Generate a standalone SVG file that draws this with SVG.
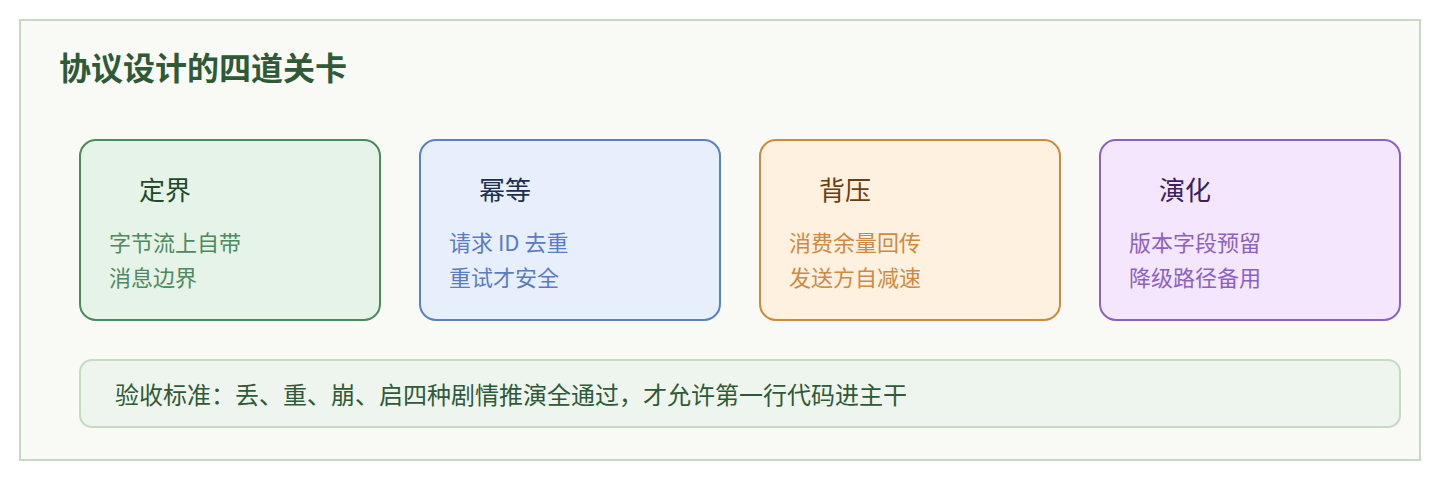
<svg xmlns="http://www.w3.org/2000/svg" width="1440" height="480" viewBox="0 0 1440 480">
<style>
text { font-family: "Noto Sans CJK SC", "Noto Sans", sans-serif; }
.title { font-size: 32px; font-weight: bold; fill: #2f5a37; }
.ct { font-size: 26px; }
.cb { font-size: 22px; }
.card { stroke-width: 2; }
.note { font-size: 24px; fill: #2f5a37; }
</style>
<rect x="0" y="0" width="1440" height="480" fill="#ffffff"/>
<rect id="frame" x="20" y="20" width="1400" height="440" fill="#f9faf5" stroke="#c5dbbf" stroke-width="2"/>
<text class="title" x="59" y="80">协议设计的四道关卡</text>
<g id="connectors"></g>
<g id="card-dingjie">
  <rect class="card" x="80" y="140" width="300" height="180" rx="16" fill="#e6f3e8" stroke="#4b8a5b"/>
  <text class="ct" x="139" y="200" fill="#1f4a2a">定界</text>
  <text class="cb" x="109" y="251" fill="#4e8a5d">字节流上自带</text>
  <text class="cb" x="109" y="286" fill="#4e8a5d">消息边界</text>
</g>
<g id="card-mideng">
  <rect class="card" x="420" y="140" width="300" height="180" rx="16" fill="#e7eefc" stroke="#5b80c0"/>
  <text class="ct" x="479" y="200" fill="#1c2f4f">幂等</text>
  <text class="cb" x="449" y="251" fill="#5b7cbf">请求 ID 去重</text>
  <text class="cb" x="449" y="286" fill="#5b7cbf">重试才安全</text>
</g>
<g id="card-beiya">
  <rect class="card" x="760" y="140" width="300" height="180" rx="16" fill="#fff1df" stroke="#cc8a3e"/>
  <text class="ct" x="819" y="200" fill="#6a3d12">背压</text>
  <text class="cb" x="789" y="251" fill="#cc8a45">消费余量回传</text>
  <text class="cb" x="789" y="286" fill="#cc8a45">发送方自减速</text>
</g>
<g id="card-yanhua">
  <rect class="card" x="1100" y="140" width="300" height="180" rx="16" fill="#f4e6fc" stroke="#8c62c0"/>
  <text class="ct" x="1159" y="200" fill="#3c1f5c">演化</text>
  <text class="cb" x="1129" y="251" fill="#8c62c0">版本字段预留</text>
  <text class="cb" x="1129" y="286" fill="#8c62c0">降级路径备用</text>
</g>
<g id="note">
  <rect x="80" y="360" width="1320" height="67" rx="12" fill="#eef5ee" stroke="#c5dbbf" stroke-width="2"/>
  <text class="note" x="115" y="404">验收标准：丢、重、崩、启四种剧情推演全通过，才允许第一行代码进主干</text>
</g>
</svg>
